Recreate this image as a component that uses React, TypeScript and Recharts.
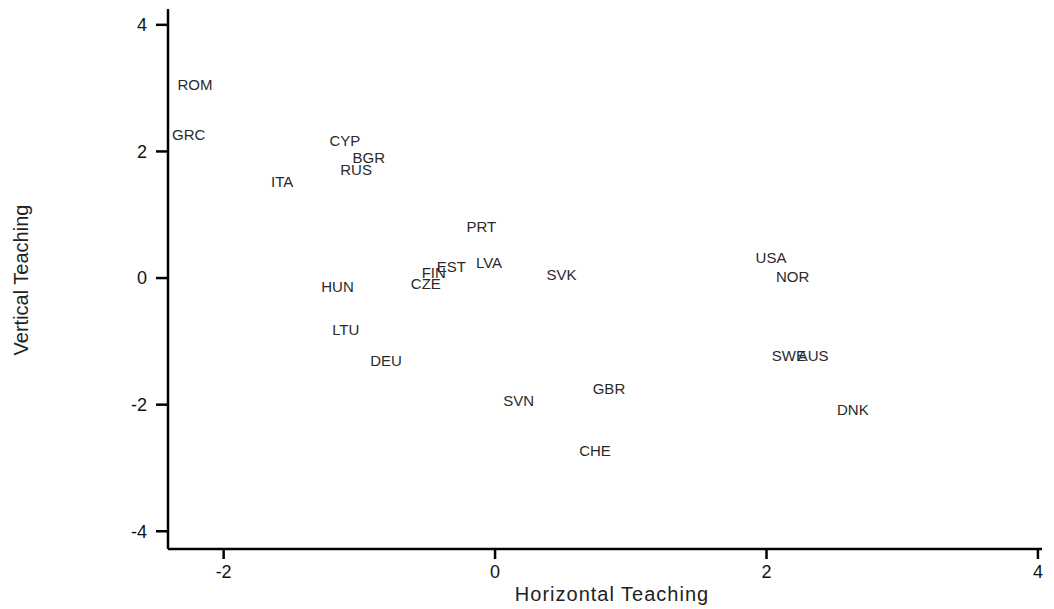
import React from 'react';
import { ScatterChart, Scatter, XAxis, YAxis } from 'recharts';

// country codes with horizontal / vertical teaching scores
const codes = ['ROM', 'GRC', 'CYP', 'BGR', 'RUS', 'ITA', 'PRT', 'EST', 'FIN', 'LVA', 'CZE', 'HUN', 'SVK', 'USA', 'NOR', 'LTU', 'DEU', 'SVN', 'GBR', 'CHE', 'SWE', 'AUS', 'DNK'];
const horizontal = [-2.37, -2.41, -1.25, -1.08, -1.17, -1.68, -0.24, -0.46, -0.57, -0.17, -0.65, -1.31, 0.35, 1.89, 2.04, -1.23, -0.95, 0.03, 0.69, 0.59, 2.01, 2.2, 2.49];
const vertical = [3.05, 2.27, 2.18, 1.9, 1.72, 1.53, 0.82, 0.19, 0.09, 0.24, -0.08, -0.13, 0.05, 0.33, 0.02, -0.82, -1.31, -1.94, -1.75, -2.73, -1.23, -1.23, -2.07];

const xTicks = [-2, 0, 2, 4];
const yTicks = [-4, -2, 0, 2, 4];

const data = codes.map((code, i) => ({ code, x: horizontal[i], y: vertical[i] }));

const FONT = '"Liberation Sans", Arial, sans-serif';

const CodeLabel = (props: any) => {
  const { cx, cy, payload } = props;
  return (
    <text x={cx + 4} y={cy} dominantBaseline="central" fontSize={15} fontFamily={FONT} fill="#2a2a2a">
      {payload.code}
    </text>
  );
};

const App: React.FC = () => {
  return (
    <div style={{ position: 'absolute', left: 0, top: 0, background: '#fff' }}>
      <ScatterChart width={1054} height={609} margin={{ top: 9, right: 12, bottom: 0, left: 0 }}>
        <XAxis
          type="number"
          dataKey="x"
          domain={[-2.41, 4.03]}
          ticks={xTicks}
          height={60}
          tickSize={10}
          tickMargin={6}
          stroke="#000"
          strokeWidth={2.5}
          tick={{ fontSize: 18, fill: '#111', fontFamily: FONT }}
          label={{
            content: () => (
              <text x={612} y={594} textAnchor="middle" dominantBaseline="central" fontSize={20} letterSpacing={1} fill="#222" fontFamily={FONT}>
                Horizontal Teaching
              </text>
            ),
          }}
        />
        <YAxis
          type="number"
          dataKey="y"
          domain={[-4.28, 4.25]}
          ticks={yTicks}
          width={168}
          tickSize={12}
          tickMargin={9}
          stroke="#000"
          strokeWidth={2.5}
          tick={{ fontSize: 18, fill: '#111', fontFamily: FONT }}
          label={{
            content: () => (
              <text x={21} y={280} transform="rotate(-90 21 280)" textAnchor="middle" dominantBaseline="central" fontSize={20} fill="#222" fontFamily={FONT}>
                Vertical Teaching
              </text>
            ),
          }}
        />
        <Scatter data={data} shape={CodeLabel} isAnimationActive={false} />
      </ScatterChart>
    </div>
  );
};

export default App;
